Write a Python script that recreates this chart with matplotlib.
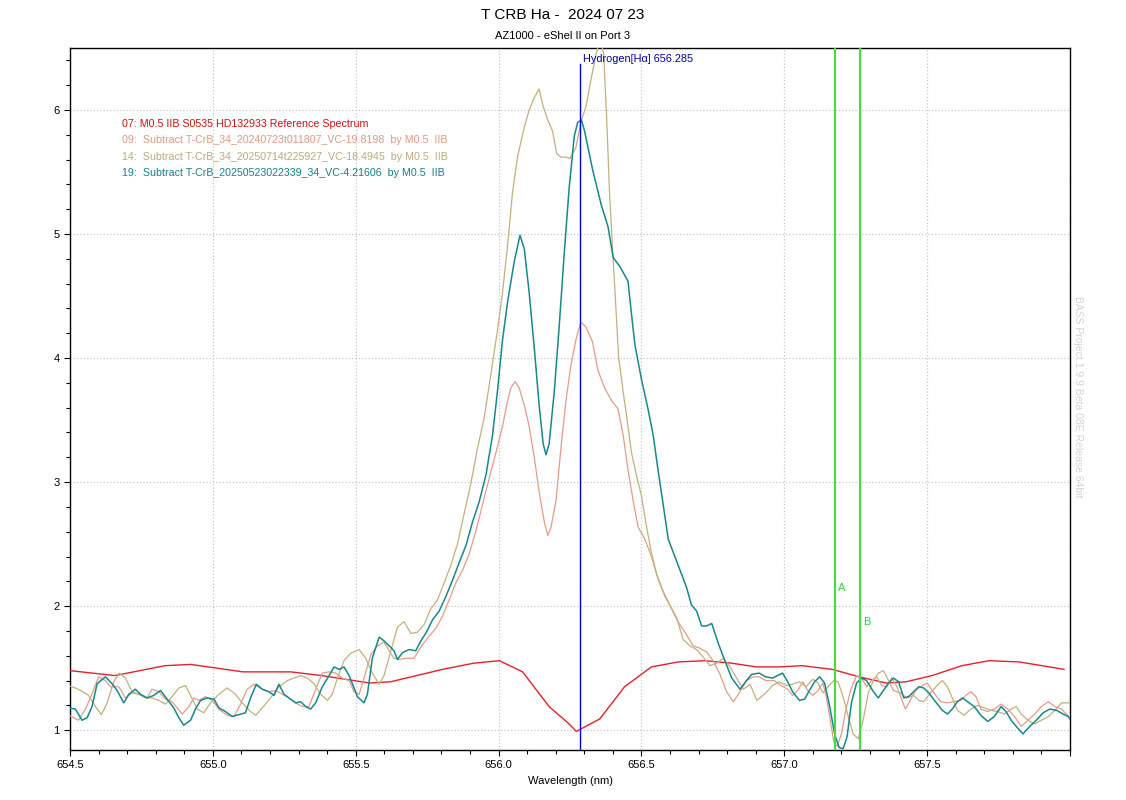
import matplotlib
matplotlib.use("Agg")
import matplotlib.pyplot as plt
from matplotlib.ticker import MultipleLocator, FuncFormatter

plt.rcParams['font.family'] = ['Liberation Sans', 'DejaVu Sans']

# 07: reference spectrum (M0.5 IIB)
ref_wl = [654.50, 654.657, 654.832, 654.923, 655.105, 655.273, 655.381, 655.549,
          655.622, 655.804, 655.913, 656.003, 656.084, 656.177, 656.247, 656.272,
          656.354, 656.441, 656.535, 656.629, 656.722, 656.816, 656.902, 656.983,
          657.063, 657.168, 657.262, 657.357, 657.427, 657.517, 657.622, 657.717,
          657.822, 657.902, 657.979]
ref_val = [1.48, 1.44, 1.52, 1.53, 1.47, 1.47, 1.44, 1.38,
           1.39, 1.49, 1.54, 1.56, 1.47, 1.19, 1.05, 0.99,
           1.09, 1.35, 1.51, 1.55, 1.56, 1.54, 1.51, 1.51,
           1.52, 1.49, 1.43, 1.38, 1.39, 1.44, 1.52, 1.56,
           1.55, 1.52, 1.49]

# 09: T CrB 2024-07-23 minus reference
s09_wl = [654.495, 654.530, 654.554, 654.577, 654.600, 654.624, 654.641, 654.671,
          654.694, 654.717, 654.741, 654.770, 654.787, 654.811, 654.834, 654.857,
          654.893, 654.916, 654.933, 654.951, 654.974, 654.998, 655.021, 655.050,
          655.074, 655.097, 655.120, 655.144, 655.173, 655.196, 655.220, 655.243,
          655.266, 655.290, 655.313, 655.336, 655.360, 655.383, 655.407, 655.430,
          655.453, 655.477, 655.494, 655.512, 655.529, 655.553, 655.576, 655.599,
          655.617, 655.634, 655.652, 655.675, 655.704, 655.728, 655.751, 655.780,
          655.804, 655.827, 655.851, 655.874, 655.897, 655.921, 655.944, 655.967,
          655.991, 656.014, 656.028, 656.043, 656.058, 656.072, 656.090, 656.107,
          656.125, 656.142, 656.160, 656.172, 656.183, 656.201, 656.218, 656.236,
          656.253, 656.271, 656.288, 656.306, 656.329, 656.348, 656.371, 656.395,
          656.418, 656.436, 656.453, 656.471, 656.488, 656.512, 656.535, 656.558,
          656.582, 656.605, 656.629, 656.652, 656.681, 656.705, 656.728, 656.751,
          656.775, 656.798, 656.822, 656.845, 656.868, 656.892, 656.912, 656.935,
          656.965, 656.988, 657.012, 657.029, 657.047, 657.065, 657.082, 657.100,
          657.118, 657.135, 657.147, 657.159, 657.173, 657.185, 657.200, 657.215,
          657.232, 657.253, 657.271, 657.288, 657.306, 657.323, 657.341, 657.359,
          657.376, 657.394, 657.412, 657.424, 657.441, 657.459, 657.476, 657.500,
          657.524, 657.547, 657.571, 657.594, 657.618, 657.635, 657.653, 657.671,
          657.688, 657.712, 657.735, 657.759, 657.782, 657.806, 657.829, 657.853,
          657.876, 657.900, 657.924, 657.947, 657.971, 657.994]
s09_val = [1.12, 1.08, 1.17, 1.29, 1.43, 1.40, 1.35, 1.35,
           1.26, 1.30, 1.29, 1.26, 1.33, 1.31, 1.25, 1.23,
           1.13, 1.19, 1.26, 1.24, 1.27, 1.24, 1.17, 1.12,
           1.11, 1.21, 1.33, 1.37, 1.33, 1.31, 1.32, 1.29,
           1.26, 1.22, 1.19, 1.19, 1.33, 1.46, 1.47, 1.46,
           1.42, 1.40, 1.31, 1.29, 1.42, 1.61, 1.68, 1.71,
           1.64, 1.58, 1.57, 1.58, 1.58, 1.67, 1.74, 1.82,
           1.92, 2.05, 2.19, 2.29, 2.42, 2.61, 2.82, 3.03,
           3.24, 3.45, 3.62, 3.76, 3.81, 3.76, 3.62, 3.45,
           3.20, 2.92, 2.68, 2.57, 2.63, 2.85, 3.27, 3.66,
           3.94, 4.15, 4.29, 4.25, 4.13, 3.90, 3.76, 3.66,
           3.59, 3.38, 3.10, 2.85, 2.64, 2.54, 2.40, 2.22,
           2.08, 1.98, 1.87, 1.79, 1.68, 1.66, 1.63, 1.56,
           1.45, 1.31, 1.23, 1.31, 1.40, 1.43, 1.43, 1.40,
           1.40, 1.36, 1.33, 1.28, 1.32, 1.39, 1.32, 1.28,
           1.32, 1.38, 1.27, 1.11, 0.91, 0.87, 0.97, 1.16,
           1.32, 1.44, 1.42, 1.35, 1.40, 1.43, 1.36, 1.35,
           1.42, 1.35, 1.24, 1.17, 1.24, 1.32, 1.35, 1.38,
           1.30, 1.23, 1.22, 1.23, 1.24, 1.28, 1.31, 1.27,
           1.17, 1.15, 1.17, 1.21, 1.17, 1.11, 1.03, 1.08,
           1.13, 1.19, 1.23, 1.19, 1.17, 1.11]

# 14: T CrB 2025-07-14 minus reference
s14_wl = [654.495, 654.530, 654.565, 654.589, 654.610, 654.630, 654.653, 654.673,
          654.694, 654.717, 654.741, 654.764, 654.787, 654.811, 654.834, 654.857,
          654.881, 654.904, 654.922, 654.945, 654.968, 654.992, 655.021, 655.050,
          655.079, 655.103, 655.132, 655.150, 655.173, 655.202, 655.231, 655.261,
          655.284, 655.307, 655.331, 655.354, 655.377, 655.401, 655.418, 655.436,
          655.459, 655.482, 655.512, 655.535, 655.556, 655.582, 655.599, 655.623,
          655.646, 655.669, 655.693, 655.716, 655.739, 655.763, 655.786, 655.810,
          655.833, 655.856, 655.880, 655.903, 655.926, 655.950, 655.973, 655.996,
          656.014, 656.032, 656.049, 656.067, 656.090, 656.107, 656.125, 656.142,
          656.156, 656.172, 656.189, 656.203, 656.218, 656.236, 656.250, 656.271,
          656.288, 656.306, 656.323, 656.341, 656.355, 656.368, 656.378, 656.389,
          656.400, 656.410, 656.420, 656.436, 656.447, 656.465, 656.482, 656.500,
          656.518, 656.535, 656.553, 656.576, 656.599, 656.623, 656.646, 656.670,
          656.693, 656.716, 656.740, 656.763, 656.787, 656.810, 656.833, 656.857,
          656.880, 656.904, 656.935, 656.959, 656.982, 657.006, 657.029, 657.053,
          657.076, 657.100, 657.118, 657.135, 657.153, 657.173, 657.188, 657.206,
          657.224, 657.241, 657.259, 657.276, 657.294, 657.312, 657.329, 657.347,
          657.365, 657.382, 657.406, 657.429, 657.453, 657.471, 657.488, 657.512,
          657.535, 657.553, 657.571, 657.588, 657.606, 657.629, 657.653, 657.676,
          657.700, 657.724, 657.747, 657.771, 657.794, 657.812, 657.829, 657.853,
          657.876, 657.900, 657.924, 657.947, 657.971, 658.000]
s14_val = [1.36, 1.33, 1.28, 1.19, 1.125, 1.22, 1.39, 1.46,
           1.42, 1.31, 1.29, 1.26, 1.26, 1.24, 1.21, 1.27,
           1.34, 1.36, 1.28, 1.17, 1.14, 1.22, 1.29, 1.34,
           1.29, 1.22, 1.15, 1.12, 1.18, 1.26, 1.35, 1.40,
           1.42, 1.44, 1.42, 1.375, 1.29, 1.24, 1.29, 1.42,
           1.56, 1.62, 1.65, 1.58, 1.47, 1.37, 1.44, 1.64,
           1.83, 1.875, 1.78, 1.79, 1.85, 1.98, 2.05, 2.19,
           2.33, 2.50, 2.75, 2.99, 3.27, 3.52, 3.87, 4.22,
           4.53, 4.92, 5.34, 5.63, 5.86, 6.00, 6.10, 6.17,
           6.03, 5.92, 5.83, 5.65, 5.62, 5.62, 5.61, 5.70,
           5.90, 6.03, 6.24, 6.45, 6.58, 6.45, 5.95, 5.30,
           4.85, 4.43, 4.01, 3.73, 3.55, 3.24, 3.06, 2.89,
           2.64, 2.43, 2.26, 2.12, 2.01, 1.91, 1.73, 1.68,
           1.65, 1.59, 1.52, 1.54, 1.58, 1.51, 1.42, 1.33,
           1.37, 1.24, 1.30, 1.36, 1.39, 1.36, 1.37, 1.39,
           1.35, 1.41, 1.38, 1.30, 1.35, 1.40, 1.39, 1.27,
           1.11, 0.97, 0.93, 1.08, 1.30, 1.40, 1.46, 1.48,
           1.40, 1.32, 1.30, 1.26, 1.28, 1.24, 1.23, 1.30,
           1.36, 1.40, 1.35, 1.26, 1.16, 1.12, 1.17, 1.20,
           1.18, 1.16, 1.15, 1.13, 1.17, 1.19, 1.13, 1.08,
           1.05, 1.08, 1.11, 1.16, 1.22, 1.22]

# 19: T CrB 2025-05-23 minus reference
s19_wl = [654.495, 654.519, 654.542, 654.560, 654.577, 654.595, 654.624, 654.647,
          654.665, 654.688, 654.706, 654.729, 654.746, 654.770, 654.793, 654.817,
          654.840, 654.863, 654.881, 654.898, 654.922, 654.939, 654.957, 654.980,
          655.004, 655.021, 655.044, 655.068, 655.091, 655.114, 655.132, 655.152,
          655.173, 655.196, 655.214, 655.231, 655.249, 655.266, 655.290, 655.307,
          655.325, 655.342, 655.360, 655.383, 655.407, 655.424, 655.442, 655.459,
          655.477, 655.488, 655.506, 655.529, 655.541, 655.558, 655.582, 655.599,
          655.617, 655.634, 655.646, 655.664, 655.687, 655.710, 655.728, 655.745,
          655.769, 655.792, 655.816, 655.839, 655.862, 655.886, 655.909, 655.932,
          655.956, 655.979, 655.996, 656.014, 656.032, 656.055, 656.075, 656.090,
          656.107, 656.125, 656.142, 656.156, 656.166, 656.177, 656.195, 656.212,
          656.230, 656.247, 656.265, 656.277, 656.290, 656.301, 656.330, 656.360,
          656.383, 656.401, 656.424, 656.453, 656.465, 656.477, 656.500, 656.523,
          656.541, 656.558, 656.576, 656.594, 656.617, 656.635, 656.658, 656.675,
          656.693, 656.711, 656.728, 656.746, 656.769, 656.792, 656.816, 656.845,
          656.868, 656.886, 656.912, 656.935, 656.959, 656.994, 657.012, 657.029,
          657.053, 657.071, 657.088, 657.106, 657.124, 657.141, 657.159, 657.176,
          657.192, 657.206, 657.220, 657.235, 657.253, 657.271, 657.288, 657.312,
          657.329, 657.347, 657.365, 657.382, 657.400, 657.418, 657.435, 657.453,
          657.471, 657.488, 657.506, 657.529, 657.553, 657.571, 657.588, 657.606,
          657.624, 657.641, 657.665, 657.688, 657.712, 657.735, 657.759, 657.776,
          657.794, 657.812, 657.835, 657.859, 657.882, 657.906, 657.929, 657.953,
          657.976, 657.994, 658.006]
s19_val = [1.18, 1.17, 1.08, 1.10, 1.19, 1.375, 1.43, 1.375,
           1.32, 1.22, 1.29, 1.33, 1.29, 1.26, 1.28, 1.32,
           1.25, 1.18, 1.10, 1.04, 1.08, 1.17, 1.24, 1.26,
           1.25, 1.18, 1.15, 1.11, 1.125, 1.14, 1.26, 1.37,
           1.33, 1.31, 1.28, 1.37, 1.29, 1.26, 1.22, 1.23,
           1.19, 1.17, 1.22, 1.35, 1.44, 1.51, 1.49, 1.51,
           1.44, 1.375, 1.27, 1.22, 1.29, 1.58, 1.75, 1.72,
           1.68, 1.64, 1.57, 1.625, 1.65, 1.64, 1.72, 1.78,
           1.89, 1.96, 2.08, 2.21, 2.35, 2.49, 2.68, 2.84,
           3.06, 3.38, 3.73, 4.15, 4.46, 4.78, 4.99, 4.88,
           4.53, 4.08, 3.62, 3.31, 3.22, 3.31, 3.73, 4.25,
           4.85, 5.37, 5.79, 5.90, 5.92, 5.83, 5.51, 5.23,
           5.06, 4.81, 4.74, 4.62, 4.36, 4.11, 3.83, 3.59,
           3.38, 3.10, 2.82, 2.54, 2.40, 2.29, 2.15, 2.01,
           1.96, 1.84, 1.84, 1.86, 1.70, 1.56, 1.42, 1.33,
           1.40, 1.45, 1.46, 1.43, 1.42, 1.46, 1.39, 1.31,
           1.24, 1.25, 1.32, 1.39, 1.43, 1.38, 1.19, 0.97,
           0.86, 0.85, 0.95, 1.22, 1.38, 1.42, 1.40, 1.31,
           1.26, 1.32, 1.38, 1.42, 1.39, 1.26, 1.27, 1.31,
           1.35, 1.34, 1.30, 1.23, 1.16, 1.13, 1.17, 1.23,
           1.26, 1.23, 1.19, 1.12, 1.07, 1.11, 1.19, 1.15,
           1.08, 1.03, 0.97, 1.03, 1.08, 1.14, 1.17, 1.16,
           1.13, 1.11, 1.07]

legend_lines = [
    "07: M0.5 IIB S0535 HD132933 Reference Spectrum",
    "09:  Subtract T-CrB_34_20240723t011807_VC-19.8198  by M0.5  IIB",
    "14:  Subtract T-CrB_34_20250714t225927_VC-18.4945  by M0.5  IIB",
    "19:  Subtract T-CrB_20250523022339_34_VC-4.21606  by M0.5  IIB",
]
line_colors = ['#e8202c', '#e49c88', '#c4b07e', '#17898c']
legend_colors = ['#cc1010', '#dc9a84', '#bcaa7c', '#14808a']

H_ALPHA = 656.285
marker_a = 657.178
marker_b = 657.266

fig = plt.figure(figsize=(11.26, 8.0), dpi=100)
ax = fig.add_axes([70 / 1126, 50 / 800, 1000 / 1126, 702 / 800])

ax.plot(ref_wl, ref_val, color=line_colors[0], linewidth=1.0, zorder=3)
ax.plot(s09_wl, s09_val, color=line_colors[1], linewidth=0.9, zorder=3)
ax.plot(s14_wl, s14_val, color=line_colors[2], linewidth=0.9, zorder=3)
ax.plot(s19_wl, s19_val, color=line_colors[3], linewidth=1.1, zorder=4)

ax.set_xlim(654.5, 658.0)
ax.set_ylim(0.84, 6.5)

# line marker for H alpha
ax.plot([H_ALPHA, H_ALPHA], [0.84, 6.37], color='#0000dd', linewidth=1.0, zorder=5)
ax.text(H_ALPHA + 0.01, 6.37, "Hydrogen[H\u03b1] 656.285", color='#0000aa',
        fontsize=7.8, va='bottom', ha='left')

# measurement markers A and B
ax.axvline(marker_a, color='#44dd44', linewidth=1.5, zorder=5)
ax.axvline(marker_b, color='#44dd44', linewidth=1.5, zorder=5)
ax.text(marker_a + 0.01, 2.15, "A", color='#33cc33', fontsize=8, va='center', ha='left')
ax.text(marker_b + 0.01, 1.87, "B", color='#33cc33', fontsize=8, va='center', ha='left')

# axes and grid (no label at the right edge, like the original)
ax.xaxis.set_major_locator(MultipleLocator(0.5))
ax.xaxis.set_minor_locator(MultipleLocator(0.1))
ax.xaxis.set_major_formatter(FuncFormatter(lambda v, p: '' if v > 657.9 else '%.1f' % v))
ax.yaxis.set_major_locator(MultipleLocator(1))
ax.yaxis.set_minor_locator(MultipleLocator(0.2))
ax.tick_params(which='both', direction='out', labelsize=8, length=4, width=0.8)
ax.tick_params(which='minor', length=3)
ax.grid(True, which='major', color='#c8c8c8', linestyle=':', linewidth=0.9)
ax.set_axisbelow(True)
for sp in ax.spines.values():
    sp.set_linewidth(1.0)

ax.set_xlabel("Wavelength (nm)", fontsize=8, labelpad=4)

# legend as coloured text lines
for i, (txt, col) in enumerate(zip(legend_lines, legend_colors)):
    fig.text(122 / 1126, 1 - (124 + i * 16.3) / 800, txt, color=col,
             fontsize=7.7, va='center', ha='left')

fig.text(0.5, 1 - 15 / 800, "T CRB Ha -  2024 07 23", fontsize=11,
         ha='center', va='center')
fig.text(0.5, 1 - 36 / 800, "AZ1000 - eShel II on Port 3", fontsize=8,
         ha='center', va='center')
fig.text(1078 / 1126, 1 - 397 / 800, "BASS Project 1.9.9 Beta 08E Release 64bit",
         rotation=270, color='#d4d4d4', fontsize=7.5, ha='center', va='center')

fig.savefig("out.png", dpi=100)
